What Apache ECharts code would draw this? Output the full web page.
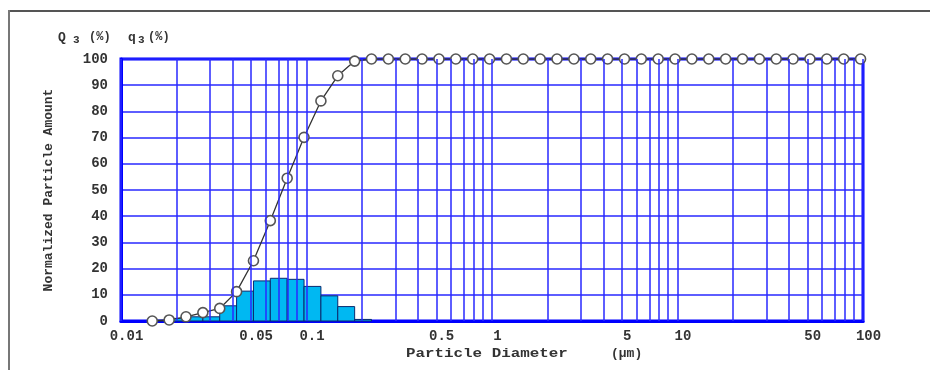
<!DOCTYPE html>
<html>
<head>
<meta charset="utf-8">
<script src="https://cdn.jsdelivr.net/npm/echarts@6/dist/echarts.min.js"></script>
<style>
html,body{margin:0;padding:0;background:#fff;}
#chart{width:930px;height:370px;}
</style>
</head>
<body>
<div id="chart"></div>
<script>
// Particle diameters (µm) of the size classes, ascending
const diameters = [0.01474, 0.01818, 0.02241, 0.02763, 0.03406, 0.04199, 0.05177, 0.06382, 0.07868, 0.097,
  0.1196, 0.1474, 0.1818, 0.2241, 0.2763, 0.3406, 0.4199, 0.5177, 0.6382, 0.7868,
  0.97, 1.196, 1.474, 1.818, 2.241, 2.763, 3.406, 4.199, 5.177, 6.382,
  7.868, 9.7, 11.96, 14.74, 18.18, 22.41, 27.63, 34.06, 41.99, 51.77,
  63.82, 78.68, 97.0];
// Cumulative Q3 (%) at each diameter
const cumulativeQ3 = [0, 0.4, 1.6, 3.2, 4.8, 11.2, 23.0, 38.3, 54.5, 70.1,
  84.0, 93.6, 99.2, 100, 100, 100, 100, 100, 100, 100,
  100, 100, 100, 100, 100, 100, 100, 100, 100, 100,
  100, 100, 100, 100, 100, 100, 100, 100, 100, 100,
  100, 100, 100];
// Frequency q3 (%) for each class between consecutive diameters
const frequencyQ3 = [0.3, 1.0, 1.6, 1.6, 5.8, 11.4, 15.3, 16.3, 15.9, 13.2,
  9.6, 5.5, 0.6];
// x-axis tick labels
const xTickLabels = [0.01, 0.05, 0.1, 0.5, 1, 5, 10, 50, 100];
// y-axis range
const yMin = 0, yMax = 100, yStep = 10;

const L = Math.log10;
const FONT = '"Liberation Mono", "DejaVu Sans Mono", monospace';
const GRIDC = 'rgba(40,40,255,0.75)';

// vertical grid lines at 1..9 x each decade
const gridX = [];
for (let e = -2; e <= 1; e++) {
  for (let m = 1; m <= 9; m++) gridX.push(m * Math.pow(10, e));
}
gridX.push(100);

const linePoints = diameters.map((d, i) => [L(d), cumulativeQ3[i]]);
const barData = frequencyQ3.map((q, i) => [L(diameters[i]), L(diameters[i + 1]), q]);

const chart = echarts.init(document.getElementById('chart'), null, {renderer: 'canvas'});
chart.setOption({
  animation: false,
  backgroundColor: '#fff',
  grid: {left: 121, right: 67, top: 59, bottom: 49, show: true, borderColor: '#0000ff', borderWidth: 3, backgroundColor: '#fff'},
  xAxis: {
    type: 'value', min: -2, max: 2,
    axisLine: {show: true, onZero: false, lineStyle: {color: '#0000ff', width: 3}},
    axisTick: {show: false},
    splitLine: {show: false},
    axisLabel: {
      customValues: xTickLabels.map(v => L(v)),
      formatter: function (v) {
        let best = xTickLabels[0];
        xTickLabels.forEach(t => { if (Math.abs(L(t) - v) < Math.abs(L(best) - v)) best = t; });
        return String(best);
      },
      color: '#333', fontFamily: FONT, fontWeight: 'bold', fontSize: 14, margin: 8,
      padding: [0, 0, 0, 11]
    }
  },
  yAxis: {
    type: 'value', min: yMin, max: yMax, interval: yStep,
    axisLine: {show: true, onZero: false, lineStyle: {color: '#0000ff', width: 3}},
    axisTick: {show: false},
    splitLine: {show: true, lineStyle: {color: GRIDC, width: 2}},
    axisLabel: {color: '#333', fontFamily: FONT, fontWeight: 'bold', fontSize: 14, margin: 13},
    name: 'Normalized Particle Amount', nameLocation: 'middle', nameGap: 66,
    nameTextStyle: {color: '#333', fontFamily: FONT, fontWeight: 'bold', fontSize: 13}
  },
  series: [
    {
      type: 'line', data: [], silent: true, z: 1,
      markLine: {
        silent: true, symbol: 'none', animation: false,
        label: {show: false},
        lineStyle: {color: GRIDC, width: 2, type: 'solid'},
        data: gridX.map(v => ({xAxis: L(v)}))
      }
    },
    {
      type: 'custom', z: 2, silent: true,
      data: barData,
      encode: {x: [0, 1], y: 2},
      renderItem: function (params, api) {
        const p0 = api.coord([api.value(0), api.value(2)]);
        const p1 = api.coord([api.value(1), 0]);
        return {
          type: 'rect',
          shape: {x: p0[0], y: p0[1], width: p1[0] - p0[0], height: p1[1] - p0[1]},
          style: {fill: '#00b8f2', stroke: '#0a2a6e', lineWidth: 1}
        };
      }
    },
    {
      type: 'line', z: 3, data: linePoints,
      symbol: 'circle', symbolSize: 10,
      itemStyle: {color: '#ffffff', borderColor: '#555', borderWidth: 1.6},
      lineStyle: {color: '#333', width: 1.3}
    }
  ],
  graphic: [
    {type: 'line', shape: {x1: 8, y1: 11, x2: 930, y2: 11}, style: {stroke: '#555', lineWidth: 2}},
    {type: 'line', shape: {x1: 9, y1: 10, x2: 9, y2: 370}, style: {stroke: '#777', lineWidth: 2}},
    {type: 'text', left: 58, top: 31, style: {text: 'Q', font: 'bold 13px ' + FONT, fill: '#333'}},
    {type: 'text', left: 73, top: 35, style: {text: '3', font: 'bold 11px ' + FONT, fill: '#333'}},
    {type: 'text', left: 89, top: 31, style: {text: '(%)', font: 'bold 12px ' + FONT, fill: '#333'}},
    {type: 'text', left: 128, top: 31, style: {text: 'q', font: 'bold 13px ' + FONT, fill: '#333'}},
    {type: 'text', left: 138, top: 35, style: {text: '3', font: 'bold 11px ' + FONT, fill: '#333'}},
    {type: 'text', left: 148, top: 31, style: {text: '(%)', font: 'bold 12px ' + FONT, fill: '#333'}},
    {type: 'text', left: 406, top: 347, style: {text: 'Particle Diameter', font: 'bold 13px ' + FONT, fill: '#333'}, scaleX: 1.22},
    {type: 'text', left: 611, top: 347, style: {text: '(µm)', font: 'bold 13px ' + FONT, fill: '#333'}}
  ]
});
</script>
</body>
</html>
